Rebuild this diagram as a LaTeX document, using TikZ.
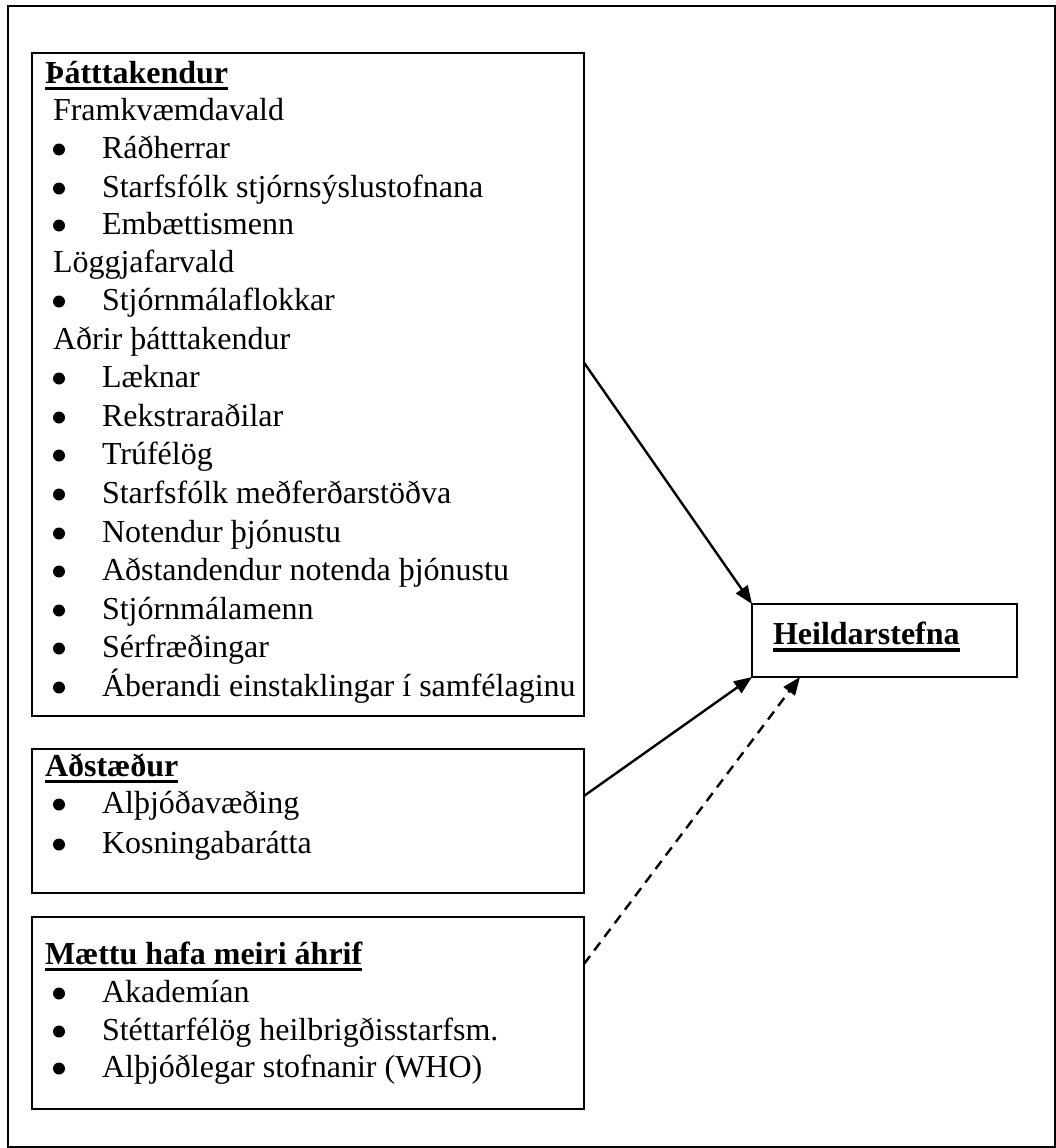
\documentclass[tikz,border=0pt]{standalone}
\usepackage{fontspec}
\setmainfont{Liberation Serif}
\usetikzlibrary{arrows.meta,calc}
\tikzset{
  frame/.style={draw, line width=2pt, inner sep=0pt, outer sep=0pt, anchor=north west},
  txt/.style={anchor=base west, inner sep=0pt, outer sep=0pt, font=\fontsize{32}{38}\selectfont},
  head/.style={anchor=base west, inner sep=0pt, outer sep=0pt, font=\fontsize{32}{38}\selectfont\bfseries},
  dot/.style={circle, fill, inner sep=0pt, minimum size=12pt},
  uline/.style={line width=3.5pt},
  link/.style={line width=2.4pt, -{Triangle[length=18pt,width=14pt]}},
  weaklink/.style={link, dash pattern=on 10pt off 7pt}
}
\begin{document}
\begin{tikzpicture}[x=1pt,y=-1pt]
\useasboundingbox (0,0) rectangle (1056,1148);
% outer frame
\draw[line width=2pt] (8,6) rectangle (1054.5,1146.5);

% boxes
\node[frame, minimum width=552pt, minimum height=663pt] (b1) at (32,53) {};
\node[frame, minimum width=552pt, minimum height=144pt] (b2) at (32,749) {};
\node[frame, minimum width=552pt, minimum height=192pt] (b3) at (32,917) {};
\node[frame, minimum width=265pt, minimum height=73pt] (goal) at (752,604) {};

% participants
\node[head] (h1) at (45,83) {Þátttakendur};
\draw[uline] ($(h1.base west)+(0,5.5)$) -- ($(h1.base east)+(0,5.5)$);
\node[txt] (g1) at (53,120) {Framkvæmdavald};
\node[txt] (g2) at (53,272) {Löggjafarvald};
\node[txt] (g3) at (53,349) {Aðrir þátttakendur};
\foreach \y/\t [count=\i] in {
  158/Ráðherrar,
  197/Starfsfólk stjórnsýslustofnana,
  234/Embættismenn,
  310/Stjórnmálaflokkar,
  387/Læknar,
  426/Rekstraraðilar,
  464/Trúfélög,
  503/Starfsfólk meðferðarstöðva,
  542/Notendur þjónustu,
  580/Aðstandendur notenda þjónustu,
  619/Stjórnmálamenn,
  657/Sérfræðingar,
  696/Áberandi einstaklingar í samfélaginu}{
  \node[dot] (pd\i) at (59,\y-8.5) {};
  \node[txt] (p\i) at (102,\y) {\t};
}

% circumstances
\node[head] (h2) at (45,776) {Aðstæður};
\draw[uline] ($(h2.base west)+(0,5.5)$) -- ($(h2.base east)+(0,5.5)$);
\foreach \y/\t [count=\i] in {813/Alþjóðavæðing, 853/Kosningabarátta}{
  \node[dot] (cd\i) at (59,\y-8.5) {};
  \node[txt] (c\i) at (102,\y) {\t};
}

% could have had more influence
\node[head] (h3) at (45,964) {Mættu hafa meiri áhrif};
\draw[uline] ($(h3.base west)+(0,5.5)$) -- ($(h3.base east)+(0,5.5)$);
\foreach \y/\t [count=\i] in {1002/Akademían, 1040/Stéttarfélög heilbrigðisstarfsm., 1077/Alþjóðlegar stofnanir (WHO)}{
  \node[dot] (md\i) at (59,\y-8.5) {};
  \node[txt] (m\i) at (102,\y) {\t};
}

% overall policy
\node[head] (h4) at (773,644) {Heildarstefna};
\draw[uline] ($(h4.base west)+(0,6)$) -- ($(h4.base east)+(0,6)$);

% connectors
\draw[link] ($(b1.north east)!0.467!(b1.south east)$) -- (goal.north west);
\draw[link] ($(b2.north east)!0.326!(b2.south east)$) -- (goal.south west);
\draw[weaklink] ($(b3.north east)!0.245!(b3.south east)$) -- ($(goal.south west)!0.181!(goal.south east)$);
\end{tikzpicture}
\end{document}
